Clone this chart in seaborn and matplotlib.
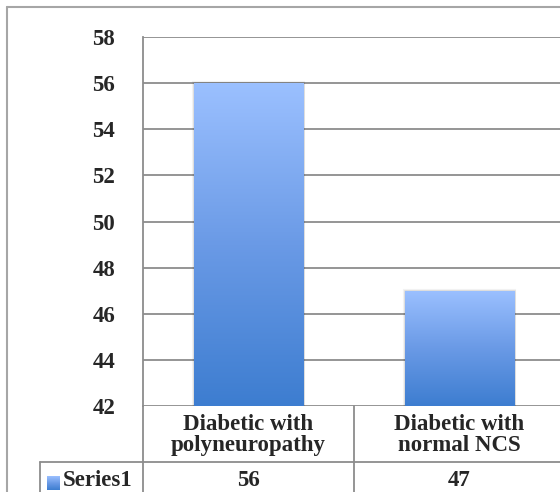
import matplotlib
matplotlib.use("Agg")
import matplotlib.pyplot as plt
import matplotlib.transforms as mtransforms
from matplotlib.colors import LinearSegmentedColormap
from matplotlib.lines import Line2D
import numpy as np
import pandas as pd
import seaborn as sns

#%% Data
categories = ["Diabetic with\npolyneuropathy", "Diabetic with\nnormal NCS"]
values = [56, 47]
series_name = "Series1"
y_ticks = [42, 44, 46, 48, 50, 52, 54, 56, 58]

#%% Style
sns.set_style("white")
plt.rcParams['font.family'] = ['Liberation Serif', 'DejaVu Serif']
plt.rcParams['font.weight'] = 'bold'
fs = 16.5
grid_col = '#8c8c8c'
bar_cmap = LinearSegmentedColormap.from_list('bar', ['#3d7dd0', '#6a9ae6', '#9bc0ff'])

W, H = 560, 492
fig = plt.figure(figsize=(W / 100, H / 100), dpi=100)
ax = fig.add_axes([143 / W, 86 / H, 422 / W, 369 / H])

df = pd.DataFrame({"category": categories, "value": values})
sns.barplot(data=df, x="category", y="value", ax=ax, width=0.52,
            color='#6a9ae6', zorder=3)

ax.set_ylim(y_ticks[0], y_ticks[-1])
ax.set_yticks(y_ticks)
ax.set_xlim(-0.5, len(categories) - 0.5)
ax.set_xlabel('')
ax.set_ylabel('')
ax.set_xticks([])
ax.tick_params(axis='y', length=0, pad=20, labelsize=fs)
ax.yaxis.grid(True, color=grid_col, lw=1.3, zorder=0)
ax.set_axisbelow(True)
for s in ['top', 'right', 'bottom']:
    ax.spines[s].set_visible(False)
ax.spines['left'].set_color(grid_col)
ax.spines['left'].set_linewidth(1.3)

# gradient fill of the bars, with a faint shadow behind them
grad = np.linspace(0, 1, 256).reshape(-1, 1)
for p in ax.patches:
    x0, x1 = p.get_x(), p.get_x() + p.get_width()
    y1 = p.get_y() + p.get_height()
    y0 = max(p.get_y(), y_ticks[0])
    for k, a in [(3, 0.05), (2, 0.07), (1, 0.09)]:
        sh = plt.Rectangle((x0, y0), x1 - x0, y1 - y0, facecolor='none',
                           edgecolor='black', alpha=a, lw=k, zorder=2)
        ax.add_patch(sh)
    im = ax.imshow(grad, cmap=bar_cmap, origin='lower', aspect='auto',
                   extent=[x0, x1, y0, y1], zorder=3)
    im.set_clip_path(p)
    p.set_facecolor('none')
    p.set_edgecolor('none')
ax.set_xlim(-0.5, len(categories) - 0.5)
ax.set_ylim(y_ticks[0], y_ticks[-1])

#%% Data table below the chart
bt = mtransforms.blended_transform_factory(ax.transData, fig.transFigure)
row_y = (H - 462) / H
lines = [
    Line2D([0.5, 0.5], [86 / H, 0], transform=bt),
    Line2D([-0.5, -0.5], [86 / H, 0], transform=bt),
    Line2D([40 / W, 1], [row_y, row_y], transform=fig.transFigure),
    Line2D([40 / W, 40 / W], [row_y, 0], transform=fig.transFigure),
]
for ln in lines:
    ln.set_color(grid_col)
    ln.set_linewidth(1.3)
    ln.set_clip_on(False)
    fig.add_artist(ln)

# outer chart frame
for xs, ys in [([7 / W, 7 / W], [0, (H - 7) / H]), ([7 / W, 1], [(H - 7) / H, (H - 7) / H])]:
    fig.add_artist(Line2D(xs, ys, transform=fig.transFigure, color='#a6a6a6', lw=1.5))

for i, (cat, v) in enumerate(zip(categories, values)):
    ax.text(i, (H - 435) / H, cat, transform=bt, ha='center', va='center',
            fontsize=fs, linespacing=1.0)
    ax.text(i, (H - 480) / H, str(v), transform=bt, ha='center', va='center',
            fontsize=fs)

fig.text(63 / W, (H - 480) / H, series_name, ha='left', va='center', fontsize=fs)
key_ax = fig.add_axes([47 / W, (H - 490) / H, 13 / W, 14 / H])
key_ax.imshow(grad, cmap=bar_cmap, origin='lower', aspect='auto')
key_ax.axis('off')

fig.savefig('out.png', dpi=100)
